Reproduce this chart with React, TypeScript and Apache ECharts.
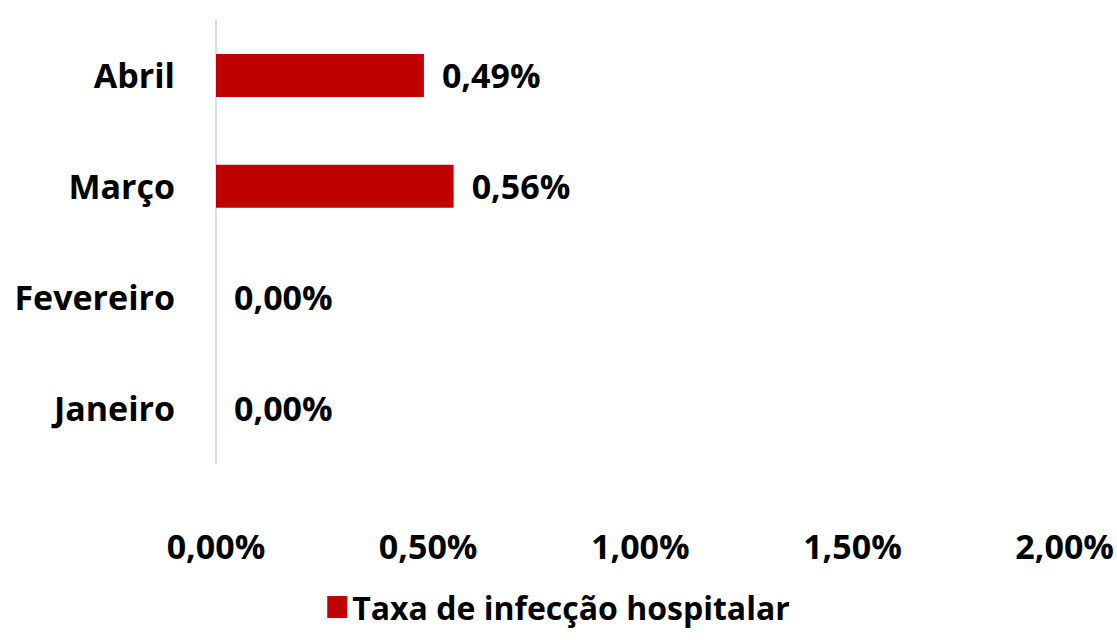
import React, { useEffect, useRef } from "react";
import * as echarts from "echarts";

const categories = ["Janeiro", "Fevereiro", "Março", "Abril"];
const values = [0.0, 0.0, 0.56, 0.49];
const seriesName = "Taxa de infecção hospitalar";
const xMax = 2;
const xInterval = 0.5;

const fmt = (v: number) => v.toFixed(2).replace(".", ",") + "%";

export default function App() {
  const ref = useRef<HTMLDivElement>(null);
  useEffect(() => {
    if (!ref.current) return;
    const chart = echarts.init(ref.current, null, { renderer: "svg" });
    const font = "'Open Sans', sans-serif";
    chart.setOption({
      animation: false,
      textStyle: { fontFamily: font },
      grid: { left: 216, right: 47, top: 20, bottom: 177, containLabel: false },
      legend: {
        bottom: 12,
        left: "center",
        icon: "rect",
        itemWidth: 20,
        itemHeight: 22,
        itemGap: 8,
        textStyle: { fontSize: 32, fontWeight: "bold", color: "#000", fontFamily: font },
        data: [seriesName],
      },
      xAxis: {
        type: "value",
        min: 0,
        max: xMax,
        interval: xInterval,
        axisLine: { show: false },
        axisTick: { show: false },
        splitLine: { show: false },
        axisLabel: {
          formatter: (v: number) => fmt(v),
          fontSize: 34,
          fontWeight: "bold",
          color: "#000",
          margin: 66,
          fontFamily: font,
        },
      },
      yAxis: {
        type: "category",
        data: categories,
        axisLine: { show: true, lineStyle: { color: "#d0d0d0", width: 1.5 } },
        axisTick: { show: false },
        axisLabel: {
          fontSize: 34,
          fontWeight: "bold",
          color: "#000",
          margin: 41,
          fontFamily: font,
        },
      },
      series: [
        {
          name: seriesName,
          type: "bar",
          data: values,
          barWidth: 43,
          itemStyle: { color: "#C00000" },
          label: {
            show: true,
            position: "right",
            distance: 18,
            formatter: (p: any) => fmt(p.value),
            fontSize: 34,
            fontWeight: "bold",
            color: "#000",
            fontFamily: font,
          },
        },
      ],
    });
    return () => chart.dispose();
  }, []);
  return <div ref={ref} style={{ width: 1117, height: 640, position: "absolute", left: 0, top: 0 }} />;
}
